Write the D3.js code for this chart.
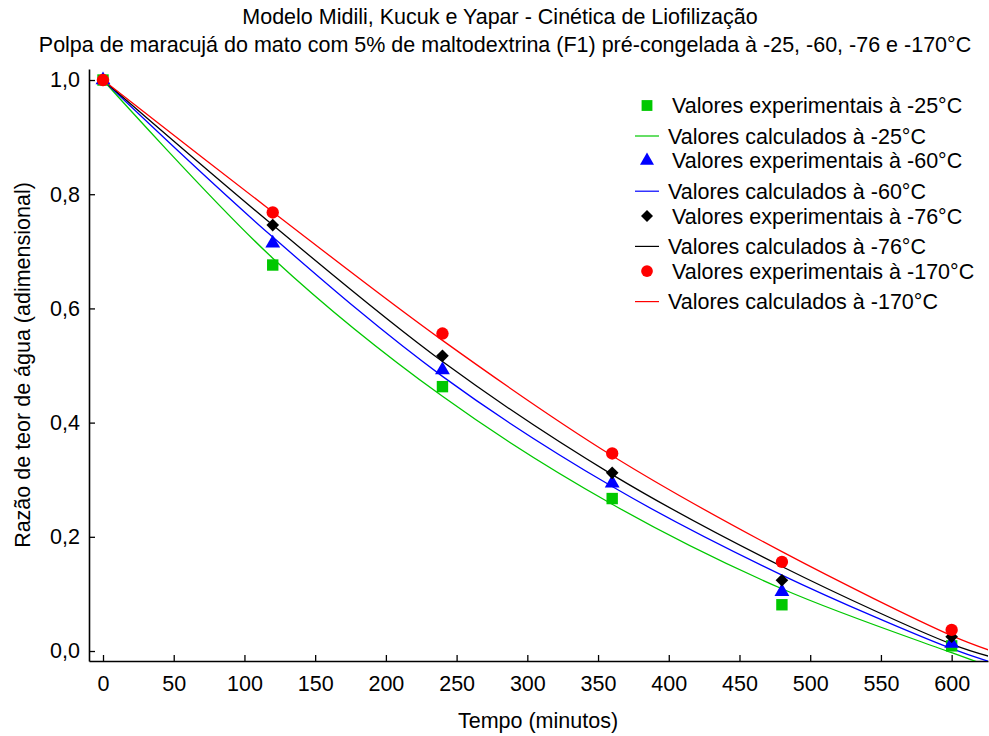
<!DOCTYPE html>
<html>
<head>
<meta charset="utf-8">
<script src="https://cdn.jsdelivr.net/npm/d3@7"></script>
<style>
  body { margin: 0; background: #fff; }
  svg { display: block; font-family: "Liberation Sans", Arial, sans-serif; }
</style>
</head>
<body>
<svg id="chart" width="989" height="736"></svg>
<script>
// tempos medidos (minutos)
const tempos = [0, 120, 240, 360, 480, 600];

// valores experimentais (razão de teor de água)
const exp25 = [1.0, 0.676, 0.463, 0.267, 0.081, 0.009];
const exp60 = [1.0, 0.714, 0.492, 0.294, 0.104, 0.013];
const exp76 = [1.0, 0.746, 0.517, 0.312, 0.124, 0.025];
const exp170 = [1.0, 0.768, 0.556, 0.346, 0.156, 0.037];

// curvas calculadas
const temposCurva = [0, 120, 240, 360, 480, 600, 626];
const calc25 = [1.0, 0.688, 0.446, 0.257, 0.109, -0.003, -0.026];
const calc60 = [1.0, 0.725, 0.481, 0.288, 0.133, 0.004, -0.018];
const calc76 = [1.0, 0.746, 0.507, 0.309, 0.148, 0.012, -0.009];
const calc170 = [1.0, 0.769, 0.544, 0.342, 0.174, 0.027, 0.002];

const xTicks = [0, 50, 100, 150, 200, 250, 300, 350, 400, 450, 500, 550, 600];
const yTicks = [0, 0.2, 0.4, 0.6, 0.8, 1.0];

const losango = { draw(ctx, size) {
  const r = Math.sqrt(size / 2);
  ctx.moveTo(0, -r); ctx.lineTo(r, 0); ctx.lineTo(0, r); ctx.lineTo(-r, 0); ctx.closePath();
} };

const series = [
  { temp: "-25", cor: "#00c800", simbolo: d3.symbolSquare, tam: 130, exp: exp25, calc: calc25 },
  { temp: "-60", cor: "#0000ff", simbolo: d3.symbolTriangle, tam: 95, exp: exp60, calc: calc60 },
  { temp: "-76", cor: "#000000", simbolo: losango, tam: 80, exp: exp76, calc: calc76 },
  { temp: "-170", cor: "#ff0000", simbolo: d3.symbolCircle, tam: 120, exp: exp170, calc: calc170 }
];

const fs = 21.5;
const svg = d3.select("#chart");
const mLeft = 89, mRight = 988, mTop = 69, mBottom = 661;

const x = d3.scaleLinear().domain([-9.9, 625.7]).range([mLeft, mRight]);
const y = d3.scaleLinear().domain([-0.0175, 1.0193]).range([mBottom, mTop]);

svg.append("defs").append("clipPath").attr("id", "area")
  .append("rect").attr("x", mLeft).attr("y", mTop)
  .attr("width", mRight - mLeft).attr("height", mBottom - mTop);

// títulos
svg.append("text").attr("x", 500).attr("y", 24).attr("text-anchor", "middle")
  .attr("font-size", fs).text("Modelo Midili, Kucuk e Yapar - Cinética de Liofilização");
svg.append("text").attr("x", 505).attr("y", 52).attr("text-anchor", "middle")
  .attr("font-size", fs).text("Polpa de maracujá do mato com 5% de maltodextrina (F1) pré-congelada à -25, -60, -76 e -170°C");

// eixos
const fmt = d => d3.format(".1f")(d).replace(".", ",");
const gx = svg.append("g").attr("transform", `translate(0,${mBottom})`)
  .call(d3.axisBottom(x).tickValues(xTicks).tickSize(-6).tickPadding(15).tickSizeOuter(0));
const gy = svg.append("g").attr("transform", `translate(${mLeft},0)`)
  .call(d3.axisLeft(y).tickValues(yTicks).tickFormat(fmt).tickSize(-6).tickPadding(9).tickSizeOuter(0));
[gx, gy].forEach(g => {
  g.select(".domain").attr("stroke", "#000").attr("stroke-width", 1.6);
  g.selectAll(".tick line").attr("stroke", "#000").attr("stroke-width", 1.3);
  g.selectAll(".tick text").attr("font-size", fs).attr("fill", "#000")
    .attr("font-family", "Liberation Sans, Arial, sans-serif");
});

svg.append("text").attr("x", 538).attr("y", 728).attr("text-anchor", "middle")
  .attr("font-size", fs).text("Tempo (minutos)");
svg.append("text").attr("transform", "translate(30,365) rotate(-90)").attr("text-anchor", "middle")
  .attr("font-size", fs).text("Razão de teor de água (adimensional)");

// curvas
const linha = d3.line().x((d, i) => x(temposCurva[i])).y(d => y(d)).curve(d3.curveCatmullRom);
const plot = svg.append("g").attr("clip-path", "url(#area)");
series.forEach(s => {
  plot.append("path").datum(s.calc).attr("d", linha)
    .attr("fill", "none").attr("stroke", s.cor).attr("stroke-width", 1.3);
});
series.forEach(s => {
  svg.append("g").selectAll("path").data(s.exp).join("path")
    .attr("transform", (d, i) => `translate(${x(tempos[i])},${y(d)})`)
    .attr("d", d3.symbol().type(s.simbolo).size(s.tam))
    .attr("fill", s.cor);
});

// legenda
const leg = svg.append("g");
series.forEach((s, k) => {
  const ye = 105.5 + k * 55.2, yc = 136 + k * 55.2;
  leg.append("path").attr("transform", `translate(647,${ye})`)
    .attr("d", d3.symbol().type(s.simbolo).size(s.tam * 0.9)).attr("fill", s.cor);
  leg.append("text").attr("x", 672).attr("y", ye).attr("dy", "0.36em")
    .attr("font-size", fs).text(`Valores experimentais à ${s.temp}°C`);
  leg.append("line").attr("x1", 635).attr("x2", 659).attr("y1", yc).attr("y2", yc)
    .attr("stroke", s.cor).attr("stroke-width", 1.2);
  leg.append("text").attr("x", 668).attr("y", yc).attr("dy", "0.36em")
    .attr("font-size", fs).text(`Valores calculados à ${s.temp}°C`);
});
</script>
</body>
</html>
